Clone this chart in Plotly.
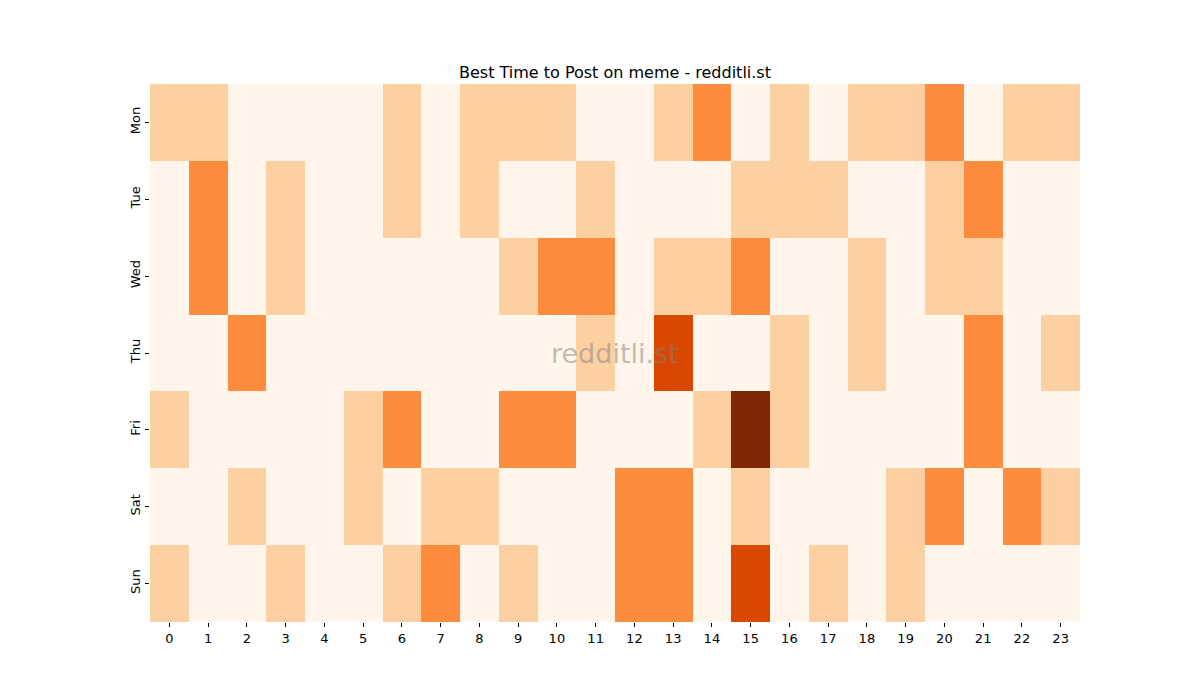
import plotly.graph_objects as go

hours = [str(h) for h in range(24)]
days = ["Mon", "Tue", "Wed", "Thu", "Fri", "Sat", "Sun"]

mon = [1, 1, 0, 0, 0, 0, 1, 0, 1, 1, 1, 0, 0, 1, 2, 0, 1, 0, 1, 1, 2, 0, 1, 1]
tue = [0, 2, 0, 1, 0, 0, 1, 0, 1, 0, 0, 1, 0, 0, 0, 1, 1, 1, 0, 0, 1, 2, 0, 0]
wed = [0, 2, 0, 1, 0, 0, 0, 0, 0, 1, 2, 2, 0, 1, 1, 2, 0, 0, 1, 0, 1, 1, 0, 0]
thu = [0, 0, 2, 0, 0, 0, 0, 0, 0, 0, 0, 1, 0, 3, 0, 0, 1, 0, 1, 0, 0, 2, 0, 1]
fri = [1, 0, 0, 0, 0, 1, 2, 0, 0, 2, 2, 0, 0, 0, 1, 4, 1, 0, 0, 0, 0, 2, 0, 0]
sat = [0, 0, 1, 0, 0, 1, 0, 1, 1, 0, 0, 0, 2, 2, 0, 1, 0, 0, 0, 1, 2, 0, 2, 1]
sun = [1, 0, 0, 1, 0, 0, 1, 2, 0, 1, 0, 0, 2, 2, 0, 3, 0, 1, 0, 1, 0, 0, 0, 0]

z = [mon, tue, wed, thu, fri, sat, sun]

# Oranges colormap sampled at the 5 levels
oranges = [
    [0.0, "#fff5eb"],
    [0.25, "#fdd0a2"],
    [0.5, "#fd8d3c"],
    [0.75, "#d94801"],
    [1.0, "#7f2704"],
]

fig = go.Figure(go.Heatmap(
    z=z, x=hours, y=days,
    colorscale=oranges, zmin=0, zmax=4,
    showscale=False, xgap=0, ygap=0,
    hoverongaps=False,
))

font = dict(family="DejaVu Sans", size=13, color="black")

# page body has an 8px margin, so the figure is a bit smaller
fig.update_layout(
    width=1192, height=692,
    paper_bgcolor="white", plot_bgcolor="white",
    margin=dict(l=142, r=120, t=76, b=78),
    font=font,
    title=dict(
        text="Best Time to Post on meme - redditli.st",
        x=0.5, xref="paper", xanchor="center",
        y=1, yref="paper", yanchor="bottom",
        pad=dict(b=6),
        font=dict(family="DejaVu Sans", size=16, color="black"),
    ),
    xaxis=dict(
        showgrid=False, zeroline=False, showline=False,
        ticks="outside", ticklen=4, tickcolor="black",
        tickfont=font,
    ),
    yaxis=dict(
        autorange="reversed",
        showgrid=False, zeroline=False, showline=False,
        ticks="outside", ticklen=4, tickcolor="black",
        tickangle=-90, tickfont=font,
    ),
    annotations=[dict(
        text="redditli.st", x=0.5, y=0.5, xref="paper", yref="paper",
        showarrow=False,
        font=dict(family="DejaVu Sans", size=27, color="rgba(128,128,128,0.5)"),
    )],
)

fig.write_html("out.html")
